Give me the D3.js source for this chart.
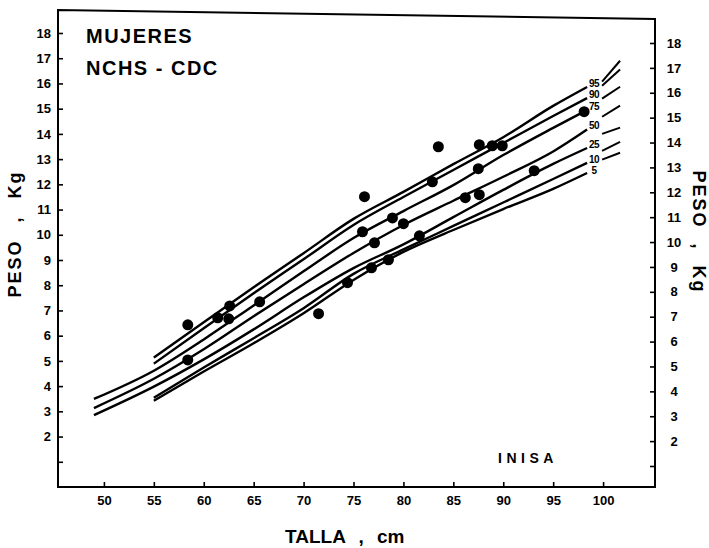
<!DOCTYPE html>
<html>
<head>
<meta charset="utf-8">
<script src="https://cdn.jsdelivr.net/npm/d3@7"></script>
<style>
  body { margin: 0; background: #fff; }
  svg { display: block; }
  text { font-family: "Liberation Sans", Arial, sans-serif; fill: #000; }
</style>
</head>
<body>
<div id="chart"></div>
<script>
// talla (cm) where the percentile curves were read
var talla = [49, 55, 60, 65, 70, 75, 80, 85, 90, 95, 98.4];

// peso (kg) for each percentile, null where the curve has not started yet
var p95 = [null, 5.13, 6.53, 7.92, 9.27, 10.63, 11.70, 12.80, 13.87, 15.11, 15.86];
var p90 = [null, 4.89, 6.29, 7.68, 9.03, 10.39, 11.50, 12.57, 13.64, 14.71, 15.42];
var p75 = [3.49, 4.61, 5.85, 7.20, 8.55, 9.87, 10.94, 11.97, 13.16, 14.24, 14.95];
var p50 = [3.13, 4.29, 5.46, 6.77, 8.04, 9.28, 10.39, 11.35, 12.30, 13.30, 14.17];
var p25 = [2.85, 3.98, 5.06, 6.25, 7.52, 8.68, 9.62, 10.70, 11.78, 12.81, 13.44];
var p10 = [null, 3.54, 4.74, 5.90, 7.09, 8.45, 9.42, 10.35, 11.28, 12.21, 12.85];
var p5  = [null, 3.42, 4.58, 5.70, 6.89, 8.21, 9.32, 10.19, 11.02, 11.82, 12.45];

// short pieces drawn past the percentile labels
var tallaEnd = [99.9, 101.7];
var e95 = [16.07, 16.90];
var e90 = [15.91, 16.55];
var e75 = [15.40, 15.87];
var e50 = [14.68, 15.12];
var e25 = [14.00, 14.25];
var e10 = [13.33, 13.68];
var e5  = [12.98, 13.25];

var percentiles = ["95", "90", "75", "50", "25", "10", "5"];

// children measured
var dotTalla = [58.4, 58.4, 61.4, 62.6, 62.5, 65.6, 71.5, 74.4, 76.1, 75.9, 77.1, 76.8, 78.5,
                78.9, 80.0, 81.6, 82.9, 83.5, 86.2, 87.6, 87.5, 87.6, 88.9, 89.9, 93.1, 98.1];
var dotPeso  = [6.43, 5.04, 6.71, 7.18, 6.67, 7.34, 6.87, 8.10, 11.51, 10.12, 9.68, 8.69, 9.01,
                10.67, 10.44, 9.96, 12.10, 13.49, 11.47, 11.59, 12.62, 13.57, 13.53, 13.53, 12.54, 14.88];

var tallaTicks = [50, 55, 60, 65, 70, 75, 80, 85, 90, 95, 100];
var pesoTicks = d3.range(1, 19);

var width = 709, height = 548;

var svg = d3.select("#chart")
  .append("svg")
    .attr("width", width)
    .attr("height", height);

var x = d3.scaleLinear().domain([45.4, 105.2]).range([58, 655]);
var y = d3.scaleLinear().domain([0, 18]).range([487, 33]);
// the right hand scale of the original sits a little lower
var yRight = d3.scaleLinear().domain([1, 18]).range([466, 43]);

var fmt = function(d) { return d === 1 ? "" : d; };

// frame
svg.append("path")
  .attr("d", "M" + x(45.4) + "," + (y(0)) + "V10L" + x(105.2) + ",19V" + y(0) + "Z")
  .attr("fill", "none")
  .attr("stroke", "#000")
  .attr("stroke-width", 2);

var left = svg.append("g")
  .attr("transform", "translate(" + x(45.4) + ",0)")
  .call(d3.axisLeft(y).tickValues(pesoTicks).tickFormat(fmt)
    .tickSizeInner(-5).tickSizeOuter(0).tickPadding(7));

var right = svg.append("g")
  .attr("transform", "translate(" + x(105.2) + ",0)")
  .call(d3.axisRight(yRight).tickValues(pesoTicks).tickFormat(fmt)
    .tickSizeInner(-5).tickSizeOuter(0).tickPadding(19));
right.selectAll("text").attr("text-anchor", "middle");

var bottom = svg.append("g")
  .attr("transform", "translate(0," + y(0) + ")")
  .call(d3.axisBottom(x).tickValues(tallaTicks)
    .tickSizeInner(-5).tickSizeOuter(0).tickPadding(9));

[left, right, bottom].forEach(function(g) {
  g.select(".domain").remove();
  g.selectAll("line").attr("stroke", "#000").attr("stroke-width", 1.6);
  g.selectAll("text")
    .attr("font-family", "'Liberation Sans', Arial, sans-serif")
    .attr("font-size", 13)
    .attr("font-weight", "bold")
    .attr("fill", "#000");
});

// percentile curves
var series = [p95, p90, p75, p50, p25, p10, p5];
var ends = [e95, e90, e75, e50, e25, e10, e5];

var line = d3.line()
  .x(function(d) { return x(d[0]); })
  .y(function(d) { return y(d[1]); })
  .curve(d3.curveMonotoneX);

var prevLabelY = -Infinity;

series.forEach(function(s, i) {
  var pts = talla.map(function(t, j) { return [t, s[j]]; })
    .filter(function(d) { return d[1] != null; });
  svg.append("path")
    .attr("d", line(pts))
    .attr("fill", "none")
    .attr("stroke", "#000")
    .attr("stroke-width", 2.4);

  // label at the end of the curve, pushed down if it would hit the one above
  var last = pts[pts.length - 1];
  var ly = Math.max(y(last[1]) - 3, prevLabelY + 11.5);
  prevLabelY = ly;
  svg.append("text")
    .attr("x", x(last[0]) + 7)
    .attr("y", ly)
    .attr("text-anchor", "middle")
    .attr("dominant-baseline", "middle")
    .attr("font-size", 10)
    .attr("font-weight", "bold")
    .attr("letter-spacing", -0.5)
    .text(percentiles[i]);

  var seg = tallaEnd.map(function(t, j) { return [t, ends[i][j]]; });
  svg.append("path")
    .attr("d", d3.line().x(function(d) { return x(d[0]); }).y(function(d) { return y(d[1]); })(seg))
    .attr("fill", "none")
    .attr("stroke", "#000")
    .attr("stroke-width", 2);
});

// dots
svg.append("g").selectAll("circle")
  .data(dotTalla)
  .enter().append("circle")
    .attr("cx", function(d) { return x(d); })
    .attr("cy", function(d, i) { return y(dotPeso[i]); })
    .attr("r", 5.5)
    .attr("fill", "#000");

// texts
svg.append("text")
  .attr("x", 86).attr("y", 43)
  .attr("font-size", 20).attr("font-weight", "bold").attr("letter-spacing", 1.5)
  .text("MUJERES");

svg.append("text")
  .attr("x", 86).attr("y", 75)
  .attr("font-size", 20).attr("font-weight", "bold").attr("letter-spacing", 1.5)
  .text("NCHS - CDC");

svg.append("text")
  .attr("x", 498).attr("y", 463)
  .attr("font-size", 14).attr("font-weight", "bold").attr("letter-spacing", 4.5)
  .text("INISA");

svg.append("text")
  .attr("x", 285).attr("y", 543)
  .attr("font-size", 19).attr("font-weight", "bold").attr("word-spacing", 8)
  .text("TALLA , cm");

svg.append("text")
  .attr("transform", "translate(21,234) rotate(-90)")
  .attr("text-anchor", "middle")
  .attr("font-size", 18).attr("font-weight", "bold")
  .attr("letter-spacing", 2).attr("word-spacing", 10)
  .text("PESO , Kg");

svg.append("text")
  .attr("transform", "translate(693,232) rotate(90)")
  .attr("text-anchor", "middle")
  .attr("font-size", 18).attr("font-weight", "bold")
  .attr("letter-spacing", 2).attr("word-spacing", 8)
  .text("PESO , Kg");
</script>
</body>
</html>
